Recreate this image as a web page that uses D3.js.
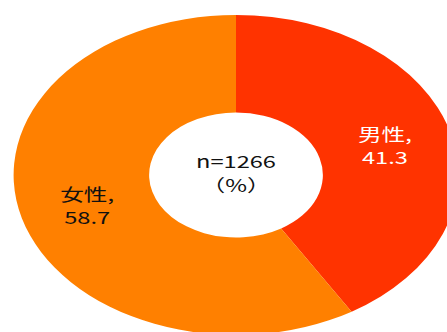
<html>
<head>
  <meta charset="utf-8">
  <script src="https://d3js.org/d3.v7.min.js"></script>
  <style>
    body { margin: 0; background: white; }
    text { font-family: "Noto Sans CJK JP", "Noto Sans", sans-serif; }
  </style>
</head>
<body>
<script>
  // data
  const categories = ["男性", "女性"];
  const values = [41.3, 58.7];
  const colors = ["#FF3300", "#FF8000"];
  const labelColors = ["#ffffff", "#111111"];
  const centerLines = ["n=1266", "（%）"];

  const width = 447, height = 332;
  const cx = 236, cy = 175;
  const outerR = 160, innerR = 62.5;
  const stretch = 1.39; // chart is wider than tall

  const svg = d3.select("body").append("svg")
    .attr("width", width)
    .attr("height", height);

  const g = svg.append("g")
    .attr("transform", `translate(${cx},${cy}) scale(${stretch},1)`);

  const pie = d3.pie().sort(null).value(d => d.value);
  const arc = d3.arc().innerRadius(innerR).outerRadius(outerR);

  const data = categories.map((c, i) => ({ name: c, value: values[i], i: i }));
  const arcs = pie(data);

  g.selectAll("path")
    .data(arcs)
    .join("path")
    .attr("d", arc)
    .attr("fill", d => colors[d.data.i]);

  // slice labels at centroid
  const labels = g.selectAll("g.lbl")
    .data(arcs)
    .join("g")
    .attr("class", "lbl")
    .attr("transform", d => `translate(${arc.centroid(d)})`);

  labels.append("text")
    .attr("text-anchor", "middle")
    .attr("y", -4)
    .attr("font-size", 17)
    .attr("fill", d => labelColors[d.data.i])
    .text(d => d.data.name + ",");

  labels.append("text")
    .attr("text-anchor", "middle")
    .attr("y", 19)
    .attr("font-size", 17)
    .attr("fill", d => labelColors[d.data.i])
    .text(d => d3.format(".1f")(d.data.value));

  // center text
  g.selectAll("text.center")
    .data(centerLines)
    .join("text")
    .attr("class", "center")
    .attr("text-anchor", "middle")
    .attr("y", (d, i) => i === 0 ? -7 : 17)
    .attr("font-size", 17)
    .attr("fill", "#111111")
    .text(d => d);
</script>
</body>
</html>
